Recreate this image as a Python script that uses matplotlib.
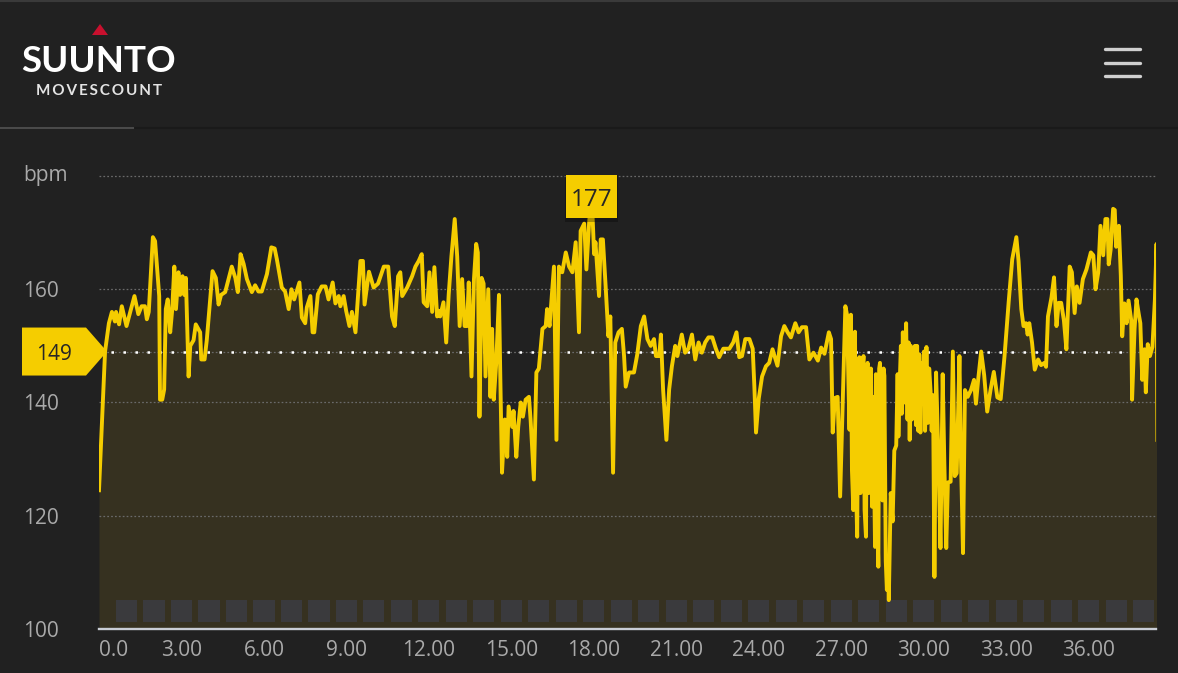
import numpy as np
import matplotlib.pyplot as plt
from matplotlib.patches import Polygon, Rectangle
from matplotlib.lines import Line2D
import matplotlib.transforms as mtransforms

plt.rcParams['font.family'] = ['Open Sans', 'DejaVu Sans']

# ------------------------------------------------------------
# Heart rate trace (minute, bpm)
# ------------------------------------------------------------
HR_TRACE = [
    (0.00, 124.5), (0.22, 149.0), (0.36, 154.0), (0.47, 156.0), (0.58, 154.3), (0.62, 156.0),
    (0.73, 153.8), (0.83, 157.0), (1.00, 153.5), (1.29, 158.8), (1.43, 155.6), (1.55, 157.0),
    (1.67, 157.0), (1.74, 154.7), (1.81, 156.0), (1.96, 169.2), (2.04, 168.5), (2.19, 158.8),
    (2.22, 140.5), (2.30, 140.5), (2.37, 142.3), (2.43, 156.5), (2.50, 158.2), (2.59, 152.4),
    (2.66, 156.2), (2.74, 164.0), (2.80, 156.5), (2.89, 163.0), (2.95, 159.0), (3.04, 162.3),
    (3.10, 159.0), (3.16, 162.0), (3.26, 144.6), (3.32, 150.0), (3.44, 151.0), (3.52, 153.8),
    (3.68, 152.4), (3.72, 147.6), (3.84, 147.6), (3.92, 151.0), (4.13, 163.2), (4.25, 162.0),
    (4.35, 157.3), (4.44, 159.0), (4.59, 159.5), (4.83, 164.0), (4.96, 162.0), (5.05, 159.5),
    (5.15, 166.2), (5.26, 164.5), (5.38, 161.8), (5.56, 159.5), (5.68, 160.7), (5.80, 159.6),
    (5.92, 159.6), (6.11, 162.7), (6.27, 167.4), (6.39, 167.2), (6.47, 165.3), (6.65, 160.3),
    (6.77, 159.6), (6.90, 156.5), (7.00, 160.0), (7.10, 158.2), (7.29, 161.2), (7.38, 155.0),
    (7.50, 154.0), (7.56, 156.8), (7.69, 158.8), (7.77, 152.4), (7.83, 152.4), (7.96, 159.1),
    (8.10, 160.5), (8.24, 160.5), (8.35, 158.2), (8.50, 161.2), (8.60, 157.5), (8.72, 158.8),
    (8.78, 157.0), (8.90, 158.8), (8.99, 156.2), (9.11, 153.5), (9.20, 156.0), (9.33, 152.4),
    (9.51, 165.0), (9.60, 165.0), (9.66, 157.3), (9.82, 163.1), (9.99, 160.3), (10.15, 161.0),
    (10.36, 164.0), (10.52, 164.0), (10.66, 155.2), (10.76, 153.5), (10.88, 162.3), (10.96, 163.0),
    (11.03, 158.8), (11.21, 160.3), (11.39, 162.3), (11.51, 164.0), (11.63, 165.0), (11.74, 166.2),
    (11.81, 157.7), (11.94, 157.0), (12.02, 163.0), (12.12, 156.0), (12.20, 163.9), (12.30, 155.2),
    (12.35, 156.2), (12.41, 155.2), (12.53, 157.7), (12.63, 150.6), (12.72, 159.0), (12.82, 165.8),
    (12.94, 172.4), (13.03, 165.8), (13.12, 153.5), (13.21, 161.8), (13.30, 153.5), (13.39, 153.5),
    (13.45, 161.2), (13.55, 144.6), (13.64, 161.8), (13.72, 168.0), (13.78, 166.5), (13.84, 137.5),
    (13.92, 162.0), (13.99, 161.0), (14.06, 144.6), (14.16, 160.0), (14.24, 141.0), (14.30, 153.0),
    (14.36, 140.5), (14.45, 147.0), (14.55, 159.0), (14.60, 144.0), (14.66, 127.6), (14.76, 137.0),
    (14.85, 130.4), (14.90, 139.3), (15.03, 135.7), (15.08, 138.5), (15.18, 130.4), (15.25, 135.7),
    (15.34, 140.0), (15.42, 137.5), (15.52, 140.5), (15.64, 141.0), (15.70, 137.0), (15.82, 126.4),
    (15.91, 145.3), (16.00, 146.0), (16.13, 153.0), (16.25, 153.5), (16.30, 156.5), (16.39, 153.5),
    (16.55, 164.0), (16.64, 133.4), (16.73, 164.0), (16.85, 163.0), (16.98, 166.5), (17.10, 164.0),
    (17.22, 163.0), (17.34, 168.3), (17.46, 152.4), (17.52, 170.3), (17.65, 171.6), (17.73, 163.5),
    (17.83, 171.8), (17.92, 177.0), (18.01, 166.2), (18.06, 168.3), (18.19, 158.8), (18.25, 168.8),
    (18.33, 168.8), (18.43, 160.5), (18.53, 151.7), (18.60, 155.2), (18.70, 127.6), (18.78, 150.6),
    (18.90, 152.4), (19.02, 153.0), (19.10, 148.2), (19.16, 142.8), (19.28, 145.3), (19.46, 145.3),
    (19.58, 148.5), (19.71, 153.5), (19.83, 155.2), (19.95, 151.2), (20.07, 150.0), (20.19, 151.2),
    (20.26, 148.2), (20.38, 148.2), (20.44, 152.0), (20.52, 142.3), (20.64, 133.4), (20.74, 142.3),
    (20.84, 146.4), (20.96, 150.0), (21.04, 148.2), (21.20, 152.0), (21.32, 148.8), (21.44, 149.5),
    (21.57, 152.0), (21.69, 147.6), (21.81, 150.6), (21.93, 148.8), (22.05, 150.6), (22.17, 151.5),
    (22.31, 151.5), (22.44, 149.5), (22.56, 148.0), (22.71, 149.5), (22.93, 149.5), (23.07, 150.6),
    (23.19, 152.4), (23.29, 148.0), (23.39, 148.2), (23.51, 151.2), (23.66, 151.2), (23.78, 149.5),
    (23.84, 142.8), (23.90, 134.7), (24.00, 140.7), (24.12, 144.6), (24.26, 146.4), (24.38, 147.0),
    (24.50, 149.4), (24.68, 146.5), (24.81, 151.7), (24.93, 153.5), (25.05, 152.4), (25.17, 151.5),
    (25.33, 154.0), (25.45, 152.4), (25.57, 153.3), (25.72, 153.3), (25.84, 147.6), (25.99, 148.8),
    (26.15, 147.4), (26.27, 149.7), (26.39, 148.6), (26.55, 152.4), (26.63, 151.2), (26.69, 134.7),
    (26.77, 140.8), (26.87, 141.0), (26.96, 123.4), (27.06, 140.8), (27.15, 157.0), (27.21, 155.5),
    (27.30, 135.2), (27.35, 155.5), (27.39, 128.0), (27.44, 121.0), (27.47, 147.6), (27.50, 152.5),
    (27.54, 125.0), (27.58, 116.3), (27.62, 147.0), (27.66, 148.0), (27.70, 124.0), (27.75, 127.5),
    (27.78, 146.0), (27.81, 148.2), (27.85, 121.0), (27.90, 116.3), (27.93, 145.0), (27.96, 147.0),
    (28.00, 124.0), (28.02, 132.0), (28.05, 144.0), (28.08, 146.0), (28.12, 121.6), (28.16, 141.0),
    (28.20, 126.0), (28.23, 114.5), (28.26, 145.0), (28.29, 142.0), (28.32, 118.0), (28.35, 111.0),
    (28.38, 146.0), (28.41, 147.0), (28.45, 124.0), (28.50, 122.7), (28.54, 146.0), (28.57, 144.7),
    (28.62, 112.0), (28.66, 106.9), (28.70, 112.0), (28.73, 105.1), (28.80, 124.0), (28.87, 119.0),
    (28.93, 131.5), (29.00, 132.4), (29.05, 145.0), (29.08, 134.0), (29.12, 142.3), (29.17, 150.0),
    (29.20, 138.0), (29.24, 152.4), (29.30, 140.0), (29.36, 154.0), (29.41, 137.0), (29.45, 150.6),
    (29.49, 133.4), (29.53, 150.0), (29.57, 137.0), (29.64, 140.5), (29.68, 150.0), (29.72, 136.0),
    (29.76, 150.0), (29.80, 135.0), (29.84, 148.5), (29.88, 134.7), (29.92, 147.0), (29.97, 140.0),
    (30.01, 149.0), (30.05, 135.0), (30.10, 149.8), (30.15, 136.4), (30.20, 146.0), (30.25, 142.0),
    (30.29, 135.0), (30.34, 141.3), (30.39, 109.2), (30.45, 145.3), (30.54, 129.4), (30.61, 114.3),
    (30.69, 145.0), (30.75, 129.4), (30.82, 114.3), (30.88, 125.9), (30.98, 126.0), (31.06, 149.0),
    (31.13, 127.0), (31.20, 127.5), (31.30, 148.2), (31.35, 131.4), (31.43, 113.4), (31.50, 142.2),
    (31.60, 141.0), (31.72, 142.2), (31.83, 144.0), (31.90, 139.8), (31.98, 144.0), (32.09, 149.0),
    (32.20, 144.8), (32.31, 138.4), (32.43, 142.2), (32.55, 145.4), (32.68, 140.9), (32.80, 140.6),
    (32.94, 148.2), (33.09, 157.7), (33.22, 165.3), (33.37, 169.2), (33.45, 165.0), (33.55, 156.5),
    (33.63, 153.5), (33.72, 154.0), (33.78, 152.0), (33.84, 154.0), (33.94, 150.6), (34.04, 145.8),
    (34.16, 147.6), (34.27, 146.6), (34.39, 147.0), (34.45, 146.3), (34.52, 155.2), (34.65, 158.6),
    (34.74, 162.1), (34.83, 153.5), (34.91, 157.6), (35.00, 157.6), (35.10, 154.5), (35.19, 149.4),
    (35.31, 164.0), (35.39, 163.0), (35.49, 155.8), (35.57, 160.5), (35.67, 157.6), (35.79, 161.8),
    (35.92, 163.5), (36.08, 166.5), (36.17, 166.0), (36.25, 160.0), (36.35, 163.0), (36.43, 171.2),
    (36.53, 166.0), (36.61, 172.4), (36.68, 172.4), (36.73, 164.4), (36.80, 167.0), (36.89, 174.2),
    (36.95, 174.0), (37.00, 167.5), (37.10, 171.2), (37.17, 162.4), (37.22, 151.7), (37.30, 157.5),
    (37.38, 154.0), (37.45, 158.0), (37.55, 154.5), (37.58, 140.5), (37.67, 153.0), (37.74, 158.2),
    (37.82, 155.7), (37.88, 154.0), (37.95, 144.0), (38.03, 149.4), (38.08, 141.8), (38.15, 150.3),
    (38.23, 148.2), (38.32, 149.8), (38.41, 158.2), (38.47, 168.0), (38.50, 133.4),
]
MINUTES = [m for m, _ in HR_TRACE]
BPM = [b for _, b in HR_TRACE]

AVG_BPM = 149
LAP_MARKS = list(range(1, 39))          # one grey marker per minute
X_TICKS = [0, 3, 6, 9, 12, 15, 18, 21, 24, 27, 30, 33, 36]
X_LABELS = ["0.0", "3.00", "6.00", "9.00", "12.00", "15.00", "18.00",
            "21.00", "24.00", "27.00", "30.00", "33.00", "36.00"]
Y_TICKS = [100, 120, 140, 160]
Y_LABELS = ["100", "120", "140", "160"]
Y_UNIT = "bpm"

# colours
BG = "#212121"
YELLOW = "#f5cd00"
FILL = "#363120"
GRID = "#6a6a6a"
LABEL = "#a9a9a9"

W, H = 1178, 673


def fx(px):
    return px / W


def fy(py):
    return 1 - py / H


fig = plt.figure(figsize=(W / 100, H / 100), dpi=100, facecolor=BG)

# ------------------------------------------------------------
# Header
# ------------------------------------------------------------
fig.add_artist(Line2D([0, 1], [fy(1), fy(1)], transform=fig.transFigure, color="#3a3a3a", lw=1.5))
fig.add_artist(Line2D([0, 1], [fy(128), fy(128)], transform=fig.transFigure, color="#1a1a1a", lw=1.5))
fig.add_artist(Line2D([0, fx(133)], [fy(128), fy(128)], transform=fig.transFigure, color="#4a4a4a", lw=1.5))

fig.add_artist(Polygon([(fx(92), fy(35)), (fx(108), fy(35)), (fx(100), fy(24))],
                       closed=True, transform=fig.transFigure, fc="#c8102e", ec="none"))
fig.text(fx(99), fy(61), "SUUNTO", ha="center", va="center", fontsize=26.5,
         fontweight="bold", color="white", family=["Lato", "DejaVu Sans"])
fig.text(fx(99), fy(91), "M O V E S C O U N T".replace(" ", "\u2009"), ha="center", va="center",
         fontsize=11, fontweight="bold", color="#e4e4e4", family=["Lato", "DejaVu Sans"])

for py in (49, 63, 76):
    fig.add_artist(Line2D([fx(1105), fx(1140)], [fy(py), fy(py)], transform=fig.transFigure,
                          color="#cfcfcf", lw=2.4, solid_capstyle="round"))

# ------------------------------------------------------------
# Chart
# ------------------------------------------------------------
ax = fig.add_axes([fx(99), 44 / H, 1057 / W, 453 / H])
ax.set_facecolor("none")
ax.set_xlim(0, 38.45)
ax.set_ylim(100, 180)

ax.fill_between(MINUTES, BPM, 100, color=FILL, lw=0, zorder=1)

for y in [120, 140, 160, 180, AVG_BPM]:
    ax.axhline(y, color=GRID, lw=0.9, linestyle=(0, (1.4, 1.7)), zorder=2, clip_on=False)

ax.bar(LAP_MARKS, 3.9, bottom=101.2, width=0.77, color="#3a3a3d", zorder=2)

ax.axhline(AVG_BPM, color="white", lw=1.8, linestyle=(0, (1, 3.8)), zorder=3)

ax.plot(MINUTES, BPM, color=YELLOW, lw=2.8, zorder=4, solid_joinstyle="round")

for s in ["top", "left", "right"]:
    ax.spines[s].set_visible(False)
ax.spines["bottom"].set_color("#c9cdd5")
ax.spines["bottom"].set_linewidth(1.7)
ax.spines["bottom"].set_zorder(5)

ax.set_yticks(Y_TICKS)
ax.set_yticklabels(Y_LABELS)
ax.set_xticks(X_TICKS)
ax.set_xticklabels(X_LABELS)
ax.tick_params(axis="y", length=0, pad=54.7, labelcolor=LABEL, labelsize=15)
ax.tick_params(axis="x", length=0, pad=8, labelcolor=LABEL, labelsize=15)
for lbl in ax.get_yticklabels():
    lbl.set_horizontalalignment("left")
ax.get_xticklabels()[0].set_horizontalalignment("left")

blend = mtransforms.blended_transform_factory(fig.transFigure, ax.transData)

# unit label sits just under the top grid line
ax.text(fx(23), 179.2, Y_UNIT, transform=blend, ha="left", va="baseline",
        fontsize=15, color=LABEL, clip_on=False)

# average badge on the left edge
half = 24 / (453 / 80)
ax.add_artist(Polygon([(fx(22), AVG_BPM + half), (fx(86), AVG_BPM + half), (fx(107), AVG_BPM),
                       (fx(86), AVG_BPM - half), (fx(22), AVG_BPM - half)],
                      closed=True, transform=blend, fc=YELLOW, ec="none", clip_on=False, zorder=6))
ax.text(fx(54), AVG_BPM, str(AVG_BPM), transform=blend, ha="center", va="center_baseline",
        fontsize=15, color="#262626", zorder=7, clip_on=False)

# max badge
i_max = int(np.argmax(BPM))
t_max, hr_max = MINUTES[i_max], BPM[i_max]
bw = 51 / (1057 / 38.45)
bh = 43 / (453 / 80)
cy = hr_max - 0.7
ax.add_patch(Rectangle((t_max - bw / 2 - 0.03, cy - bh / 2 - 0.6), bw + 0.06, bh + 0.6,
                       fc="black", ec="none", alpha=0.3, zorder=5, clip_on=False))
ax.add_patch(Rectangle((t_max - bw / 2, cy - bh / 2), bw, bh, fc=YELLOW, ec="none",
                       zorder=6, clip_on=False))
ax.text(t_max, cy, f"{hr_max:.0f}", ha="center", va="center_baseline", fontsize=17.5,
        color="#262626", zorder=7, clip_on=False)

fig.savefig("out.png", dpi=100, facecolor=BG)
